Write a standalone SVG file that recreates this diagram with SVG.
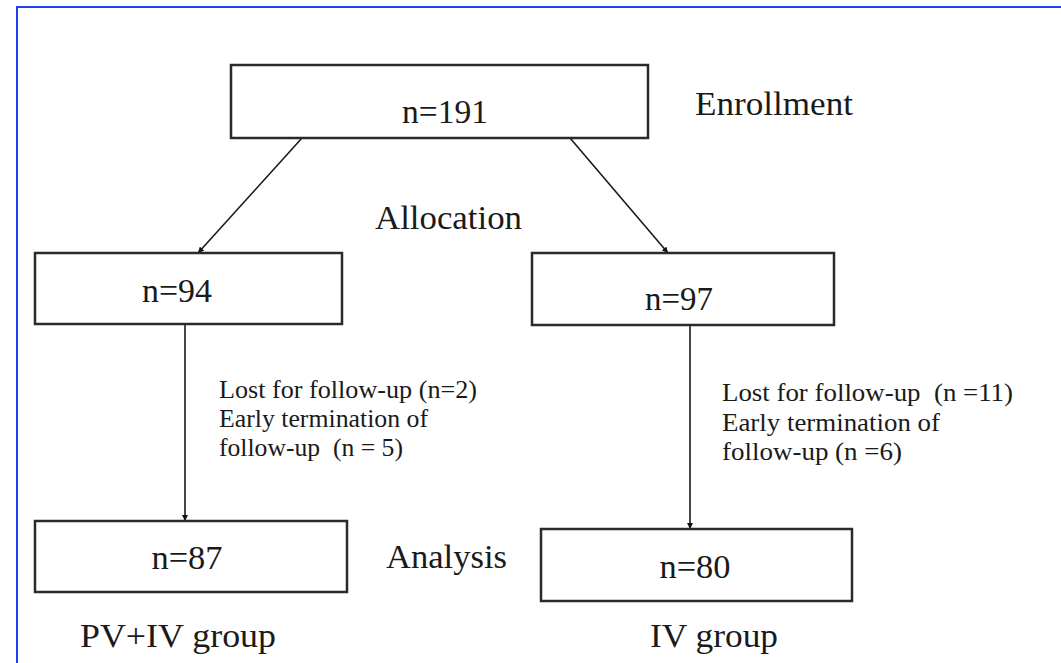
<svg xmlns="http://www.w3.org/2000/svg" width="1061" height="663" viewBox="0 0 1061 663">
<style>
.box{fill:#fff;stroke:#2a2a2a;stroke-width:2.5}
.t{font-family:"Liberation Serif","Times New Roman",serif;font-size:34px;fill:#1a1a1a}
.s{font-family:"Liberation Serif","Times New Roman",serif;font-size:25px;fill:#1a1a1a}
.c{stroke:#1a1a1a;stroke-width:1.6;fill:none;marker-end:url(#ah)}
</style>
<defs>
<marker id="ah" viewBox="0 0 10 10" refX="10" refY="5" markerWidth="6" markerHeight="6" markerUnits="userSpaceOnUse" orient="auto">
<path d="M0,0 L10,5 L0,10 z" fill="#111"/>
</marker>
</defs>
<rect width="1061" height="663" fill="#fff"/>
<path d="M1061,7 H17 V663" fill="none" stroke="#1f3df5" stroke-width="2"/>
<g id="connectors">
<line class="c" x1="302" y1="138" x2="198" y2="253"/>
<line class="c" x1="570" y1="138" x2="668" y2="253"/>
<line class="c" x1="185" y1="324" x2="185" y2="521"/>
<line class="c" x1="690" y1="325" x2="690" y2="529"/>
</g>
<g id="enroll">
<rect class="box" x="231" y="65" width="417" height="73"/>
<text class="t" x="445" y="123" text-anchor="middle" textLength="86" lengthAdjust="spacingAndGlyphs">n=191</text>
</g>
<g id="labelEnrollment"><text class="t" x="695" y="115" textLength="158" lengthAdjust="spacingAndGlyphs">Enrollment</text></g>
<g id="labelAllocation"><text class="t" x="375" y="229" textLength="147" lengthAdjust="spacingAndGlyphs">Allocation</text></g>
<g id="pv94">
<rect class="box" x="35" y="253" width="307" height="71"/>
<text class="t" x="177" y="302" text-anchor="middle" textLength="70" lengthAdjust="spacingAndGlyphs">n=94</text>
</g>
<g id="iv97">
<rect class="box" x="532" y="253" width="302" height="72"/>
<text class="t" x="679" y="310" text-anchor="middle" textLength="68" lengthAdjust="spacingAndGlyphs">n=97</text>
</g>
<g id="lossLeft">
<text class="s" x="219" y="398" textLength="258" lengthAdjust="spacingAndGlyphs">Lost for follow-up (n=2)</text>
<text class="s" x="219" y="427" textLength="209" lengthAdjust="spacingAndGlyphs">Early termination of</text>
<text class="s" x="219" y="456" textLength="184" lengthAdjust="spacingAndGlyphs" xml:space="preserve">follow-up  (n = 5)</text>
</g>
<g id="lossRight">
<text class="s" x="722" y="401" textLength="291" lengthAdjust="spacingAndGlyphs" xml:space="preserve">Lost for follow-up  (n =11)</text>
<text class="s" x="722" y="431" textLength="218" lengthAdjust="spacingAndGlyphs">Early termination of</text>
<text class="s" x="722" y="460" textLength="180" lengthAdjust="spacingAndGlyphs">follow-up (n =6)</text>
</g>
<g id="pv87">
<rect class="box" x="35" y="521" width="312" height="71"/>
<text class="t" x="187" y="569" text-anchor="middle" textLength="71" lengthAdjust="spacingAndGlyphs">n=87</text>
</g>
<g id="labelAnalysis"><text class="t" x="386" y="568" textLength="121" lengthAdjust="spacingAndGlyphs">Analysis</text></g>
<g id="iv80">
<rect class="box" x="541" y="529" width="311" height="72"/>
<text class="t" x="695" y="578" text-anchor="middle" textLength="71" lengthAdjust="spacingAndGlyphs">n=80</text>
</g>
<g id="groupLabels">
<text class="t" x="80" y="647" textLength="196" lengthAdjust="spacingAndGlyphs">PV+IV group</text>
<text class="t" x="650" y="647" textLength="128" lengthAdjust="spacingAndGlyphs">IV group</text>
</g>
</svg>
